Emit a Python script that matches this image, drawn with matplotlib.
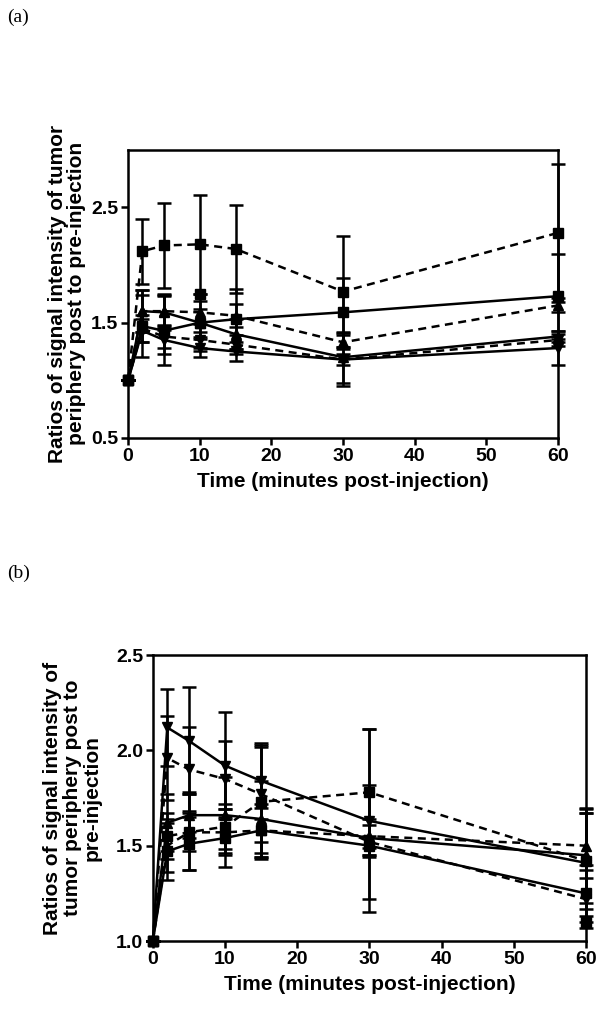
import numpy as np
import matplotlib.pyplot as plt

plt.rcParams['font.family'] = ['Liberation Sans', 'DejaVu Sans']
plt.rcParams['font.weight'] = 'bold'

# sampling times (minutes post-injection)
times = [0, 2, 5, 10, 15, 30, 60]

# panel (a) group means and error bars
a_sq_dash = [1.0, 2.12, 2.17, 2.18, 2.14, 1.77, 2.28]
a_sq_dash_err = [0, 0.28, 0.37, 0.43, 0.38, 0.48, 0.6]
a_sq_solid = [1.0, 1.47, 1.43, 1.50, 1.53, 1.59, 1.73]
a_sq_solid_err = [0, 0.27, 0.30, 0.25, 0.26, 0.30, 0.37]
a_up_solid = [1.0, 1.60, 1.59, 1.50, 1.40, 1.20, 1.38]
a_up_solid_err = [0, 0.18, 0.15, 0.12, 0.13, 0.22, 0.05]
a_up_dash = [1.0, 1.60, 1.60, 1.59, 1.56, 1.33, 1.65]
a_up_dash_err = [0, 0.18, 0.15, 0.10, 0.10, 0.06, 0.06]
a_dn_solid = [1.0, 1.43, 1.35, 1.28, 1.25, 1.18, 1.28]
a_dn_solid_err = [0, 0.10, 0.12, 0.08, 0.08, 0.23, 0.15]
a_dn_dash = [1.0, 1.45, 1.38, 1.35, 1.31, 1.18, 1.35]
a_dn_dash_err = [0, 0.12, 0.10, 0.07, 0.08, 0.05, 0.05]
a_lone = [np.nan, np.nan, np.nan, 1.75, np.nan, np.nan, np.nan]

# panel (b) group means and error bars
b_dn_solid = [1.0, 2.12, 2.05, 1.92, 1.84, 1.63, 1.41]
b_dn_solid_err = [0, 0.20, 0.28, 0.28, 0.20, 0.48, 0.28]
b_dn_dash = [1.0, 1.96, 1.90, 1.85, 1.77, 1.52, 1.22]
b_dn_dash_err = [0, 0.22, 0.22, 0.20, 0.25, 0.30, 0.15]
b_sq_dash = [1.0, 1.55, 1.57, 1.60, 1.73, 1.78, 1.42]
b_sq_dash_err = [0, 0.12, 0.20, 0.12, 0.30, 0.33, 0.25]
b_up_solid = [1.0, 1.62, 1.66, 1.66, 1.64, 1.54, 1.45]
b_up_solid_err = [0, 0.15, 0.12, 0.20, 0.20, 0.10, 0.25]
b_up_dash = [1.0, 1.50, 1.57, 1.57, 1.58, 1.55, 1.50]
b_up_dash_err = [0, 0.14, 0.10, 0.12, 0.12, 0.06, 0.17]
b_sq_solid = [1.0, 1.47, 1.51, 1.54, 1.58, 1.50, 1.25]
b_sq_solid_err = [0, 0.15, 0.14, 0.15, 0.14, 0.05, 0.15]
b_lone = [np.nan, np.nan, np.nan, np.nan, np.nan, np.nan, 1.10]

xticks = [0, 10, 20, 30, 40, 50, 60]
a_yticks = [0.5, 1.5, 2.5]
b_yticks = [1.0, 1.5, 2.0, 2.5]

a_ylabel = 'Ratios of signal intensity of tumor\nperiphery post to pre-injection'
b_ylabel = 'Ratios of signal intensity of\ntumor periphery post to\npre-injection'
xlabel = 'Time (minutes post-injection)'


def draw_series(ax, y, err, marker, dashed):
    ls = (0, (3.2, 2.2)) if dashed else '-'
    eb = ax.errorbar(times, y, yerr=err, color='black', marker=marker, markersize=7.5,
                     linestyle=ls, linewidth=1.8, elinewidth=1.8, capsize=5, capthick=1.8,
                     clip_on=False, zorder=3)
    for c in eb[1]:
        c.set_clip_on(False)
    for c in eb[2]:
        c.set_clip_on(False)


def style_axes(ax, ylim, yticks):
    ax.set_xlim(0, 60)
    ax.set_ylim(*ylim)
    ax.set_xticks(xticks)
    ax.set_yticks(yticks)
    ax.set_yticklabels(['%.1f' % v for v in yticks])
    for s in ax.spines.values():
        s.set_linewidth(1.8)
    ax.tick_params(direction='out', length=5, width=1.8, labelsize=14, pad=2,
                   top=False, right=False)
    for lab in ax.get_xticklabels() + ax.get_yticklabels():
        lab.set_fontweight('bold')
    ax.set_xlabel(xlabel, fontsize=15, fontweight='bold', labelpad=5)


fig = plt.figure(figsize=(6.04, 10.16), dpi=100)

ax1 = fig.add_axes([0.212, 0.569, 0.712, 0.2835])
draw_series(ax1, a_sq_dash, a_sq_dash_err, 's', True)
draw_series(ax1, a_sq_solid, a_sq_solid_err, 's', False)
draw_series(ax1, a_up_solid, a_up_solid_err, '^', False)
draw_series(ax1, a_up_dash, a_up_dash_err, '^', True)
draw_series(ax1, a_dn_solid, a_dn_solid_err, 'v', False)
draw_series(ax1, a_dn_dash, a_dn_dash_err, 'v', True)
ax1.plot(times, a_lone, 's', color='black', markersize=7.5, zorder=3)
style_axes(ax1, (0.5, 3.0), a_yticks)
ax1.set_ylabel(a_ylabel, fontsize=15, fontweight='bold', labelpad=4, linespacing=1.0)

ax2 = fig.add_axes([0.253, 0.0738, 0.717, 0.2815])
draw_series(ax2, b_dn_solid, b_dn_solid_err, 'v', False)
draw_series(ax2, b_dn_dash, b_dn_dash_err, 'v', True)
draw_series(ax2, b_sq_dash, b_sq_dash_err, 's', True)
draw_series(ax2, b_up_solid, b_up_solid_err, '^', False)
draw_series(ax2, b_up_dash, b_up_dash_err, '^', True)
draw_series(ax2, b_sq_solid, b_sq_solid_err, 's', False)
ax2.plot(times, b_lone, 's', color='black', markersize=7.5, zorder=3, clip_on=False)
style_axes(ax2, (1.0, 2.5), b_yticks)
ax2.set_ylabel(b_ylabel, fontsize=15, fontweight='bold', labelpad=10, linespacing=1.05)

fig.text(0.012, 0.983, '(a)', family='Liberation Serif', fontweight='normal', fontsize=14, va='center')
fig.text(0.012, 0.436, '(b)', family='Liberation Serif', fontweight='normal', fontsize=14, va='center')

fig.savefig('out.png', dpi=100)
